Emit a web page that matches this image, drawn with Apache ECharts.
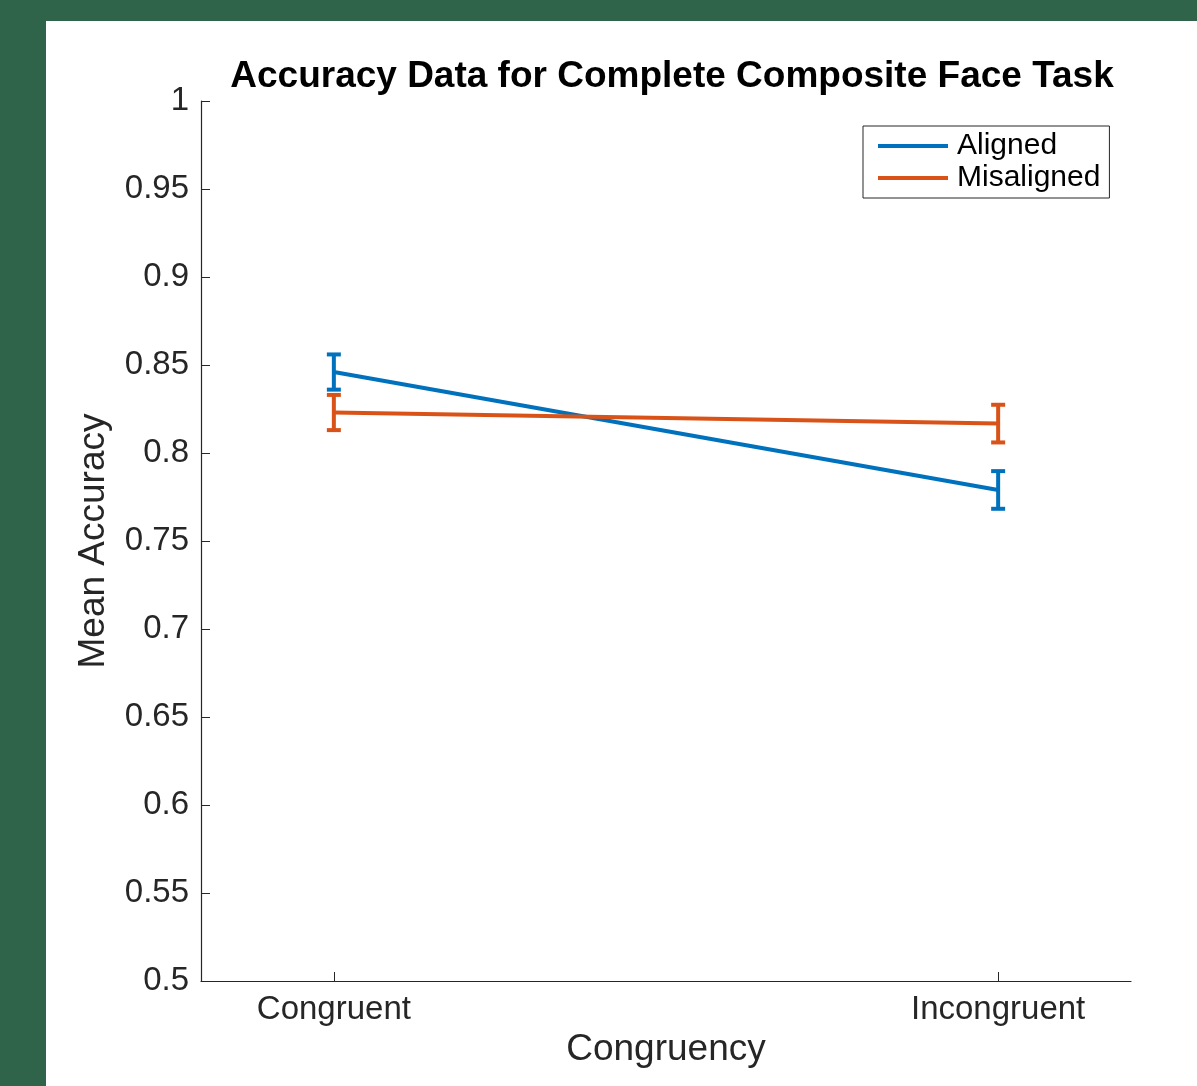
<!DOCTYPE html>
<html lang="en">
<head>
<meta charset="utf-8">
<title>Accuracy Data for Complete Composite Face Task</title>
<script src="https://cdn.jsdelivr.net/npm/echarts@6/dist/echarts.min.js"></script>
<style>
  html, body { margin: 0; padding: 0; background: #2f634a; }
  #main { position: absolute; left: 46px; top: 21px; width: 1151px; height: 1065px; background: #fff; }
</style>
</head>
<body>
<div id="main"></div>
<script type="text/javascript">
// data
var categories = ['Congruent', 'Incongruent'];
var categoryX = [1, 2];
var alignedMean = [0.846, 0.779];
var alignedErr = [0.010, 0.0107];
var misalignedMean = [0.823, 0.8167];
var misalignedErr = [0.010, 0.0107];
var yTicks = [0.5, 0.55, 0.6, 0.65, 0.7, 0.75, 0.8, 0.85, 0.9, 0.95, 1];

var BLUE = '#0072BD';
var ORANGE = '#D95319';
var INK = '#262626';
var FONT = 'Liberation Sans, Arial, sans-serif';

function pairs(means) {
    return categoryX.map(function (x, i) { return [x, means[i]]; });
}

function errRows(means, errs) {
    return categoryX.map(function (x, i) { return [x, means[i] - errs[i], means[i] + errs[i]]; });
}

function errorSeries(name, means, errs, color) {
    return {
        name: name,
        type: 'custom',
        z: 3,
        data: errRows(means, errs),
        renderItem: function (params, api) {
            var lo = api.coord([api.value(0), api.value(1)]);
            var hi = api.coord([api.value(0), api.value(2)]);
            var cap = 7;
            var style = { stroke: color, lineWidth: 4 };
            return {
                type: 'group',
                children: [
                    { type: 'line', shape: { x1: lo[0], y1: lo[1], x2: hi[0], y2: hi[1] }, style: style },
                    { type: 'line', shape: { x1: lo[0] - cap, y1: lo[1], x2: lo[0] + cap, y2: lo[1] }, style: style },
                    { type: 'line', shape: { x1: hi[0] - cap, y1: hi[1], x2: hi[0] + cap, y2: hi[1] }, style: style }
                ]
            };
        }
    };
}

var myChart = echarts.init(document.getElementById('main'));
var option = {
    backgroundColor: '#fff',
    animation: false,
    title: {
        text: 'Accuracy Data for Complete Composite Face Task',
        left: 621,
        top: 32,
        textAlign: 'center',
        textStyle: { fontFamily: FONT, fontSize: 37, fontWeight: 'bold', color: '#000' }
    },
    legend: {
        data: ['Aligned', 'Misaligned'],
        orient: 'vertical',
        left: 817,
        top: 105,
        icon: 'rect',
        itemWidth: 70,
        itemHeight: 4,
        itemGap: 0,
        padding: [4, 9, 4, 15],
        borderColor: '#262626',
        borderWidth: 1,
        textStyle: { fontFamily: FONT, fontSize: 30, color: '#000', lineHeight: 32, padding: [0, 0, 0, 4] }
    },
    grid: { left: 155, right: 66, top: 80, bottom: 105 },
    xAxis: {
        type: 'value',
        min: 0.8,
        max: 2.2,
        name: 'Congruency',
        nameLocation: 'middle',
        nameGap: 46,
        nameTextStyle: { fontFamily: FONT, fontSize: 37, color: INK },
        splitLine: { show: false },
        axisLine: { lineStyle: { color: INK, width: 1.2 } },
        axisTick: { inside: true, length: 9, customValues: categoryX, lineStyle: { color: INK } },
        axisLabel: {
            customValues: categoryX,
            margin: 12,
            fontFamily: FONT, fontSize: 33, color: INK,
            formatter: function (v) { return categories[categoryX.indexOf(v)] || ''; }
        }
    },
    yAxis: {
        type: 'value',
        min: 0.5,
        max: 1,
        interval: 0.05,
        name: 'Mean Accuracy',
        nameLocation: 'middle',
        nameRotate: 90,
        nameGap: 89,
        nameTextStyle: { fontFamily: FONT, fontSize: 37, color: INK },
        splitLine: { show: false },
        axisLine: { show: true, lineStyle: { color: INK, width: 1.2 } },
        axisTick: { show: true, inside: true, length: 9, lineStyle: { color: INK } },
        axisLabel: {
            margin: 12,
            fontFamily: FONT, fontSize: 33, color: INK,
            formatter: function (v) {
                var t = yTicks.filter(function (k) { return Math.abs(k - v) < 1e-6; })[0];
                return t === undefined ? '' : String(t);
            }
        }
    },
    series: [
        {
            name: 'Aligned', type: 'line', data: pairs(alignedMean),
            showSymbol: false, symbol: 'none', color: BLUE,
            lineStyle: { color: BLUE, width: 4 }, z: 2
        },
        {
            name: 'Misaligned', type: 'line', data: pairs(misalignedMean),
            showSymbol: false, symbol: 'none', color: ORANGE,
            lineStyle: { color: ORANGE, width: 4 }, z: 2
        },
        errorSeries('Aligned', alignedMean, alignedErr, BLUE),
        errorSeries('Misaligned', misalignedMean, misalignedErr, ORANGE)
    ]
};
myChart.setOption(option);
window.onresize = myChart.resize;
</script>
</body>
</html>
